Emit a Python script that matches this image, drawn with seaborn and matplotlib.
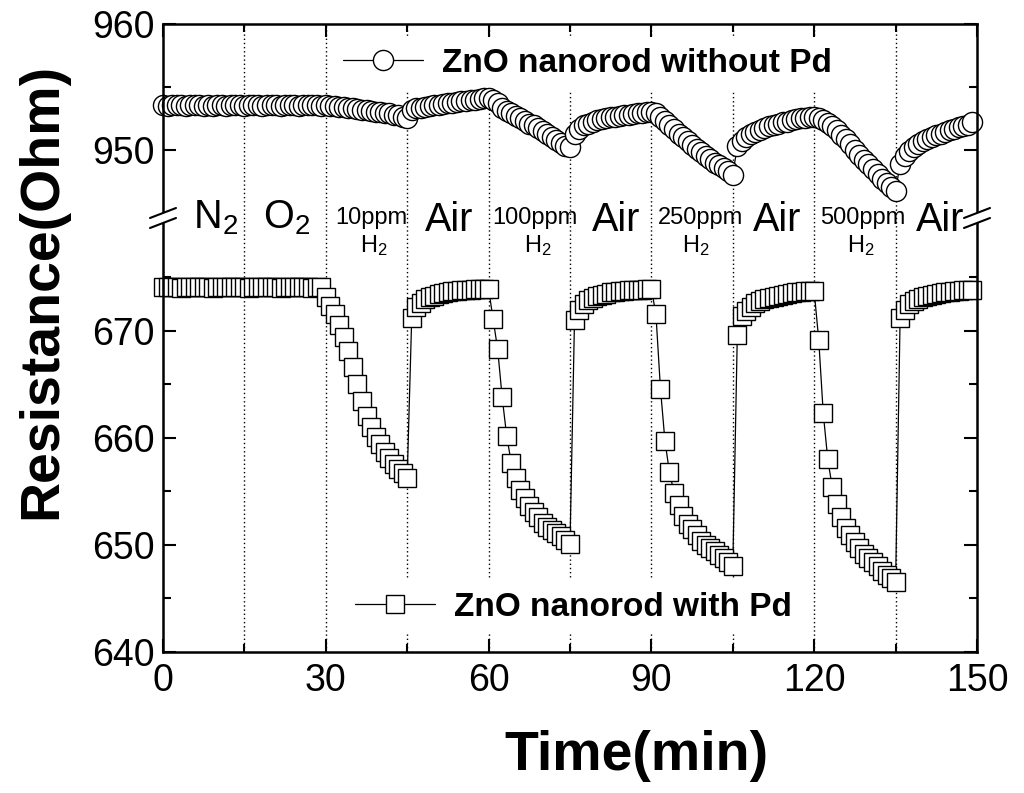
import matplotlib
matplotlib.use("Agg")
import matplotlib.pyplot as plt
from matplotlib.patches import Polygon
import seaborn as sns

# ---- data ---------------------------------------------------------------
# one reading every 50 s (minutes)
time_min = [
    0, 0.83, 1.67, 2.5, 3.33, 4.17, 5, 5.83, 6.67, 7.5, 8.33, 9.17, 10, 10.83, 11.67, 12.5, 13.33, 14.17,
    15, 15.83, 16.67, 17.5, 18.33, 19.17, 20, 20.83, 21.67, 22.5, 23.33, 24.17, 25, 25.83, 26.67, 27.5, 28.33, 29.17,
    30, 30.83, 31.67, 32.5, 33.33, 34.17, 35, 35.83, 36.67, 37.5, 38.33, 39.17, 40, 40.83, 41.67, 42.5, 43.33, 44.17,
    45, 45.83, 46.67, 47.5, 48.33, 49.17, 50, 50.83, 51.67, 52.5, 53.33, 54.17, 55, 55.83, 56.67, 57.5, 58.33, 59.17,
    60, 60.83, 61.67, 62.5, 63.33, 64.17, 65, 65.83, 66.67, 67.5, 68.33, 69.17, 70, 70.83, 71.67, 72.5, 73.33, 74.17,
    75, 75.83, 76.67, 77.5, 78.33, 79.17, 80, 80.83, 81.67, 82.5, 83.33, 84.17, 85, 85.83, 86.67, 87.5, 88.33, 89.17,
    90, 90.83, 91.67, 92.5, 93.33, 94.17, 95, 95.83, 96.67, 97.5, 98.33, 99.17, 100, 100.83, 101.67, 102.5, 103.33, 104.17,
    105, 105.83, 106.67, 107.5, 108.33, 109.17, 110, 110.83, 111.67, 112.5, 113.33, 114.17, 115, 115.83, 116.67, 117.5, 118.33, 119.17,
    120, 120.83, 121.67, 122.5, 123.33, 124.17, 125, 125.83, 126.67, 127.5, 128.33, 129.17, 130, 130.83, 131.67, 132.5, 133.33, 134.17,
    135, 135.83, 136.67, 137.5, 138.33, 139.17, 140, 140.83, 141.67, 142.5, 143.33, 144.17, 145, 145.83, 146.67, 147.5, 148.33, 149.17,
]

# ZnO nanorod without Pd (Ohm)
res_without_pd = [
    # N2, O2
    953.55, 953.5, 953.55, 953.6, 953.55, 953.5, 953.55, 953.55, 953.6, 953.5, 953.55, 953.5, 953.6, 953.55, 953.5, 953.55, 953.6, 953.55,
    953.5, 953.55, 953.55, 953.6, 953.5, 953.55, 953.6, 953.55, 953.5, 953.55, 953.6, 953.55, 953.5, 953.55, 953.55, 953.6, 953.55, 953.5,
    # 10 ppm H2
    953.55, 953.5, 953.5, 953.45, 953.4, 953.35, 953.3, 953.25, 953.2, 953.15, 953.1, 953.05, 953.0, 952.95, 952.9, 952.8, 952.75, 952.65, 952.55,
    # air
    953.2, 953.3, 953.35, 953.4, 953.5, 953.55, 953.6, 953.65, 953.7, 953.75, 953.8, 953.85, 953.9, 953.95, 954.0, 954.05, 954.1, 954.1,
    # 100 ppm H2
    953.95, 953.7, 953.35, 953.1, 952.9, 952.7, 952.5, 952.3, 952.1, 951.95, 951.75, 951.5, 951.25, 951.0, 950.8, 950.55, 950.35, 950.2,
    # air
    951.3, 951.7, 951.95, 952.1, 952.25, 952.35, 952.45, 952.55, 952.6, 952.65, 952.7, 952.75, 952.8, 952.85, 952.9, 952.95, 953.0, 953.05,
    # 250 ppm H2
    952.9, 952.6, 952.3, 952.0, 951.65, 951.3, 951.0, 950.7, 950.4, 950.1, 949.8, 949.5, 949.25, 949.0, 948.8, 948.55, 948.3, 948.05,
    # air
    950.3, 950.7, 951.0, 951.25, 951.45, 951.6, 951.75, 951.9, 952.0, 952.1, 952.2, 952.25, 952.35, 952.45, 952.5, 952.55, 952.6, 952.6,
    # 500 ppm H2
    952.55, 952.4, 952.15, 951.9, 951.55, 951.2, 950.85, 950.45, 950.0, 949.6, 949.2, 948.85, 948.45, 948.1, 947.7, 947.4, 947.05, 946.75,
    # air
    948.9, 949.5, 949.95, 950.25, 950.5, 950.75, 950.9, 951.05, 951.2, 951.3, 951.45, 951.55, 951.7, 951.8, 951.9, 952.0, 952.2,
]

# ZnO nanorod with Pd (Ohm)
res_with_pd = [
    # N2, O2
    674.1, 674.15, 674.1, 674.1, 674.05, 674.1, 674.1, 674.15, 674.1, 674.1, 674.1, 674.05, 674.1, 674.1, 674.15, 674.1, 674.1, 674.1,
    674.1, 674.05, 674.1, 674.1, 674.15, 674.1, 674.1, 674.1, 674.05, 674.1, 674.1, 674.15, 674.1, 674.1, 674.1, 674.05, 674.1, 674.1,
    # 10 ppm H2
    673.2, 672.3, 671.6, 670.6, 669.4, 668.1, 666.6, 665.0, 663.5, 662.1, 661.0, 660.1, 659.4, 658.7, 658.1, 657.6, 657.1, 656.7, 656.3,
    # air
    671.2, 672.2, 672.6, 673.0, 673.2, 673.3, 673.45, 673.55, 673.65, 673.7, 673.75, 673.8, 673.8, 673.85, 673.9, 673.9, 673.95, 673.95,
    # 100 ppm H2
    671.1, 668.3, 663.8, 660.2, 657.7, 656.3, 655.1, 654.4, 653.6, 653.1, 652.6, 652.1, 651.7, 651.4, 651.1, 650.8, 650.5, 650.1,
    # air
    671.0, 672.0, 672.5, 672.9, 673.1, 673.3, 673.4, 673.5, 673.6, 673.65, 673.7, 673.75, 673.8, 673.8, 673.85, 673.85, 673.9, 673.9,
    # 250 ppm H2
    671.6, 664.6, 659.7, 656.8, 654.9, 653.7, 652.7, 652.0, 651.5, 650.9, 650.4, 650.0, 649.7, 649.4, 649.1, 648.8, 648.4, 648.0,
    # air
    669.6, 671.4, 671.9, 672.2, 672.6, 672.8, 673.0, 673.1, 673.2, 673.3, 673.4, 673.5, 673.55, 673.6, 673.65, 673.7, 673.7, 673.7,
    # 500 ppm H2
    669.2, 662.3, 658.0, 655.4, 653.8, 652.6, 651.6, 650.9, 650.3, 649.7, 649.2, 648.8, 648.4, 648.0, 647.6, 647.2, 646.9, 646.5,
    # air
    671.2, 672.0, 672.5, 672.8, 673.0, 673.2, 673.3, 673.4, 673.5, 673.55, 673.6, 673.65, 673.7, 673.75, 673.8, 673.8, 673.85,
]

# gas switching times (min)
switch_min = [15, 30, 45, 60, 75, 90, 105, 120, 135]

# step labels: (text, centre time)
big_labels = [(r"N$_\mathrm{2}$", 9.6), (r"O$_\mathrm{2}$", 22.8),
              ("Air", 52.7), ("Air", 83.5), ("Air", 113.1), ("Air", 143.2)]
conc_labels = [("10ppm", 38.3), ("100ppm", 68.5), ("250ppm", 99.0), ("500ppm", 129.0)]
h2_labels = [38.9, 69.0, 98.2, 128.6]

x_ticks = [0, 30, 60, 90, 120, 150]
hi_ticks = [950, 960]
lo_ticks = [640, 650, 660, 670]

# ---- style ---------------------------------------------------------------
sns.set_style("ticks")
plt.rcParams["font.family"] = ["Liberation Sans", "DejaVu Sans"]
plt.rcParams["text.color"] = "black"
plt.rcParams["axes.labelcolor"] = "black"
plt.rcParams["xtick.color"] = "black"
plt.rcParams["ytick.color"] = "black"
plt.rcParams["mathtext.fontset"] = "custom"
plt.rcParams["mathtext.rm"] = "Liberation Sans"
plt.rcParams["mathtext.it"] = "Liberation Sans:italic"
plt.rcParams["mathtext.bf"] = "Liberation Sans:bold"

fig = plt.figure(figsize=(10.24, 7.93), dpi=100)

# axes geometry (figure fractions)
left, width = 163 / 1024, 814 / 1024
y_bot, y_mid, y_top = 1 - 652 / 793, 1 - 218 / 793, 1 - 24 / 793

ax_bg = fig.add_axes([left, y_bot, width, y_top - y_bot], label="bg")
ax_lo = fig.add_axes([left, y_bot, width, y_mid - y_bot], label="lo")
ax_hi = fig.add_axes([left, y_mid, width, y_top - y_mid], label="hi")
ax_fr = fig.add_axes([left, y_bot, width, y_top - y_bot], label="frame")
ax_bg.set_zorder(0)
ax_lo.set_zorder(1)
ax_hi.set_zorder(1)
ax_fr.set_zorder(3)

# dotted switch lines in the background
ax_bg.set_xlim(0, 150)
ax_bg.set_ylim(0, 1)
ax_bg.set_axis_off()
for t in switch_min:
    ax_bg.axvline(t, color="black", lw=1.0, ls=(0, (1, 2)))

# ---- data series ---------------------------------------------------------
line_kw = dict(color="black", lw=0.9, markerfacecolor="white",
               markeredgecolor="black", markeredgewidth=1.0, clip_on=False,
               sort=False, estimator=None)
sns.lineplot(x=time_min, y=res_without_pd, ax=ax_hi, marker="o", markersize=14.5,
             label="ZnO nanorod without Pd", **line_kw)
sns.lineplot(x=time_min, y=res_with_pd, ax=ax_lo, marker="s", markersize=13,
             label="ZnO nanorod with Pd", **line_kw)

for ax, lim, major, minor in [(ax_hi, (944.6, 960), hi_ticks, [955]),
                              (ax_lo, (640, 680.56), lo_ticks, [645, 655, 665, 675])]:
    ax.set_xlim(0, 150)
    ax.set_ylim(*lim)
    ax.patch.set_visible(False)
    for s in ax.spines.values():
        s.set_visible(False)
    ax.set_xticks([])
    ax.set_xlabel("")
    ax.set_ylabel("")
    ax.set_yticks(major)
    ax.set_yticks(minor, minor=True)
    ax.tick_params(axis="y", which="both", direction="in", left=True, right=True,
                   width=1.5, labelsize=27, pad=6, colors="black")
    ax.tick_params(axis="y", which="major", length=9.5)
    ax.tick_params(axis="y", which="minor", length=6)

leg_kw = dict(loc="center left", bbox_transform=fig.transFigure, frameon=True,
              facecolor="white", edgecolor="none", framealpha=1, fancybox=False,
              prop={"weight": "bold", "size": 24}, handlelength=2.4,
              handletextpad=0.57, borderpad=0.35, borderaxespad=0, numpoints=1)
leg_hi = ax_hi.legend(bbox_to_anchor=(331 / 1024, 1 - 63 / 793), **leg_kw)
leg_lo = ax_lo.legend(bbox_to_anchor=(343 / 1024, 1 - 607 / 793), **leg_kw)
leg_hi.set_zorder(1)
leg_lo.set_zorder(1)
for leg in (leg_hi, leg_lo):
    for txt in leg.get_texts():
        txt.set_color("black")

# ---- frame, x axis, labels -----------------------------------------------
ax_fr.set_xlim(0, 150)
ax_fr.set_ylim(0, 1)
ax_fr.patch.set_visible(False)
for s in ax_fr.spines.values():
    s.set_linewidth(1.8)
    s.set_color("black")
ax_fr.set_yticks([])
ax_fr.set_xticks(x_ticks)
ax_fr.set_xticks(switch_min[::2], minor=True)
ax_fr.tick_params(axis="x", which="both", direction="in", top=True, bottom=True,
                  width=1.5, labelsize=27, pad=8, colors="black")
ax_fr.tick_params(axis="x", which="major", length=9.5)
ax_fr.tick_params(axis="x", which="minor", length=6)

# axis break marks
yb = (652 - 218) / 628
dx, dy, sep = 13 / 814, 5 / 628, 5 / 628
for x0 in (0, 1):
    up = [(x0 - dx, yb + sep - dy), (x0 + dx, yb + sep + dy)]
    dn = [(x0 - dx, yb - sep - dy), (x0 + dx, yb - sep + dy)]
    ax_fr.add_patch(Polygon(up + dn[::-1], closed=True, facecolor="white",
                            edgecolor="none", transform=ax_fr.transAxes,
                            clip_on=False, zorder=5))
    for seg in (up, dn):
        ax_fr.plot([p[0] for p in seg], [p[1] for p in seg], color="black",
                   lw=1.5, transform=ax_fr.transAxes, clip_on=False, zorder=6)

# gas step labels
for txt, t in big_labels:
    y = (652 - 228) / 628 if "Air" not in txt else (652 - 231) / 628
    ax_fr.text(t, y, txt, ha="center", va="baseline", fontsize=28.5,
               color="black", zorder=7)
for txt, t in conc_labels:
    ax_fr.text(t, (652 - 224) / 628, txt, ha="center", va="baseline", fontsize=17,
               color="black", zorder=7)
for t in h2_labels:
    ax_fr.text(t, (652 - 252) / 628, r"H$_\mathrm{2}$", ha="center", va="baseline",
               fontsize=17, color="black", zorder=7)

fig.text(636 / 1024, 1 - 770 / 793, "Time(min)", ha="center", va="baseline",
         fontsize=40, fontweight="bold", color="black")
fig.text(42 / 1024, 1 - 291 / 793, "Resistance(Ohm)", ha="center", va="center",
         rotation=90, fontsize=40, fontweight="bold", color="black")

fig.savefig("out.png", dpi=100)
